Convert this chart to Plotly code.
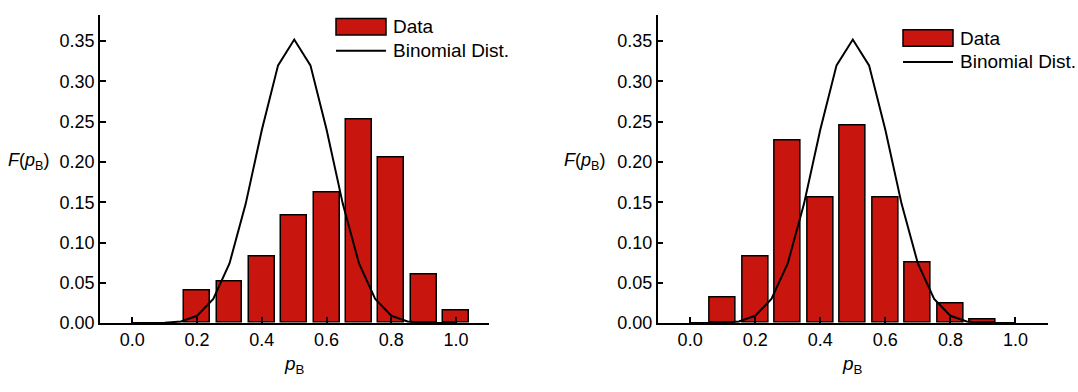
import plotly.graph_objects as go

# Measured frequency of p_B (bar heights) for each panel
left_pb = [0.2, 0.3, 0.4, 0.5, 0.6, 0.7, 0.8, 0.9, 1.0]
left_freq = [0.040, 0.052, 0.083, 0.134, 0.162, 0.252, 0.205, 0.060, 0.016]

right_pb = [0.1, 0.2, 0.3, 0.4, 0.5, 0.6, 0.7, 0.8, 0.9]
right_freq = [0.032, 0.082, 0.226, 0.156, 0.245, 0.156, 0.075, 0.024, 0.004]

# Reference binomial distribution curve (same in both panels)
binom_pb = [0.00, 0.05, 0.10, 0.15, 0.20, 0.25, 0.30, 0.35, 0.40, 0.45, 0.50,
            0.55, 0.60, 0.65, 0.70, 0.75, 0.80, 0.85, 0.90, 0.95, 1.00]
binom_f = [0.0, 0.0, 0.0004, 0.002, 0.009, 0.030, 0.074, 0.148, 0.240, 0.320, 0.352,
           0.320, 0.240, 0.148, 0.074, 0.030, 0.009, 0.002, 0.0004, 0.0, 0.0]

x_ticks = [0.0, 0.2, 0.4, 0.6, 0.8, 1.0]
y_ticks = [0.00, 0.05, 0.10, 0.15, 0.20, 0.25, 0.30, 0.35]

W, H = 1078, 392
FONT = "Liberation Sans, Arial, Helvetica, sans-serif"
BAR_RED = "#c8160f"


def px(x):
    return x / W


def py(y):
    return 1 - y / H


fig = go.Figure()

panels = [
    ("x", "y", left_pb, left_freq, (100, 488.5)),
    ("x2", "y2", right_pb, right_freq, (657.6, 1048)),
]

for xa, ya, pb, freq, _ in panels:
    fig.add_trace(go.Bar(
        x=pb, y=freq, xaxis=xa, yaxis=ya, width=0.08,
        marker=dict(color=BAR_RED, line=dict(color="black", width=1.5)),
        showlegend=False,
    ))
    fig.add_trace(go.Scatter(
        x=binom_pb, y=binom_f, xaxis=xa, yaxis=ya, mode="lines",
        line=dict(color="black", width=2), showlegend=False,
    ))

y_dom = [py(331.5), py(15)]
axis_common = dict(
    showgrid=False, zeroline=False, showline=True, linecolor="black",
    linewidth=1.5, ticks="inside", ticklen=6, tickwidth=1.5, tickcolor="black",
    tickfont=dict(family=FONT, size=18, color="black"),
)

layout = dict(
    width=W, height=H, margin=dict(l=0, r=0, t=0, b=0),
    plot_bgcolor="white", paper_bgcolor="white",
    font=dict(family=FONT, color="black"),
    bargap=0,
)
for i, (xa, ya, _, _, (x0, x1)) in enumerate(panels):
    suffix = "" if i == 0 else "2"
    layout["xaxis" + suffix] = dict(
        axis_common, domain=[px(x0), px(x1)], range=[-0.1, 1.1],
        tickvals=x_ticks, tickformat=".1f", anchor="y" + suffix,
    )
    layout["yaxis" + suffix] = dict(
        axis_common, domain=y_dom, range=[0, 0.383],
        tickvals=y_ticks, tickformat=".2f", anchor="x" + suffix,
    )
fig.update_layout(**layout)

annotations = []
shapes = []
# Axis titles
for (xa, ya, _, _, (x0, x1)), ytitle_right in zip(panels, (51, 607)):
    annotations.append(dict(
        text="<i>p</i><sub>B</sub>", xref=xa, yref="paper", x=0.5, y=py(375),
        xanchor="center", yanchor="middle", showarrow=False,
        font=dict(family=FONT, size=19, color="black"),
    ))
    annotations.append(dict(
        text="<i>F</i>(<i>p</i><sub>B</sub>)", xref="paper", yref="paper",
        x=px(ytitle_right), y=py(166), xanchor="right", yanchor="middle",
        showarrow=False, font=dict(family=FONT, size=18, color="black"),
    ))

# Legends: swatch + labels
for (lx0, lx1, ty) in [(336, 386, 27.5), (903, 953, 39)]:
    shapes.append(dict(
        type="rect", xref="paper", yref="paper",
        x0=px(lx0), x1=px(lx1), y0=py(ty - 8.5), y1=py(ty + 8.5),
        fillcolor=BAR_RED, line=dict(color="black", width=1.5),
    ))
    shapes.append(dict(
        type="line", xref="paper", yref="paper",
        x0=px(lx0), x1=px(lx1), y0=py(ty + 24.5), y1=py(ty + 24.5),
        line=dict(color="black", width=2),
    ))
    for label, yy in (("Data", ty), ("Binomial Dist.", ty + 24.5)):
        annotations.append(dict(
            text=label, xref="paper", yref="paper", x=px(lx1 + 5), y=py(yy),
            xanchor="left", yanchor="middle", showarrow=False,
            font=dict(family=FONT, size=19, color="black"),
        ))

fig.update_layout(annotations=annotations, shapes=shapes)
fig.write_html("out.html")
